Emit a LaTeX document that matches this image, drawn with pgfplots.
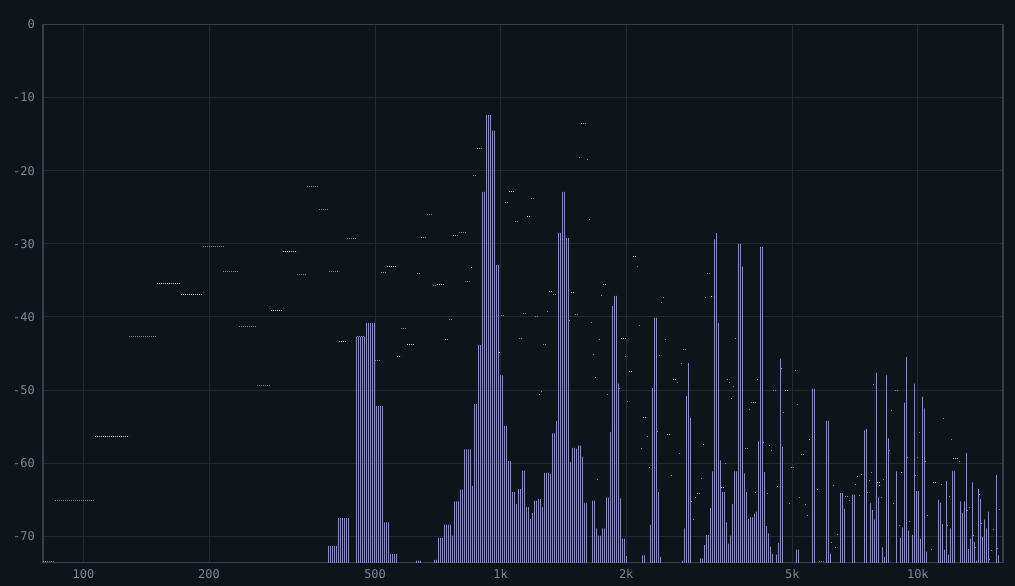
\documentclass[border=0pt]{standalone}
\usepackage{pgfplots}
\pgfplotsset{compat=1.18}
\usepackage{pgfplotstable}
\usetikzlibrary{patterns.meta}
\usepackage{fontspec}
\setmainfont{DejaVu Sans Mono}

\definecolor{bgcol}{HTML}{0F131A}
\definecolor{gridcol}{HTML}{252833}
\definecolor{axiscol}{HTML}{3A3C4E}
\definecolor{textcol}{HTML}{7F8494}
\definecolor{barcol}{HTML}{8C83E2}
\definecolor{mkbright}{HTML}{C9C9DA}
\definecolor{mkdim}{HTML}{7E8096}

% spectrum bands: level holds from f up to the next row
\pgfplotstableread{
f db
80 -80
383.55 -71.3
405.31 -67.5
433.07 -80
447.65 -42.7
473.04 -40.8
499.90 -52.2
522.46 -68.1
540.06 -72.4
564.43 -80
623.38 -73.3
644.38 -80
688.49 -73.2
703.86 -70.2
727.56 -68.4
760.40 -69.9
768.84 -65.2
794.72 -63.6
812.46 -58.1
849.14 -63.1
858.56 -51.9
877.73 -43.8
897.32 -22.9
917.35 -12.4
948.23 -14.5
969.40 -32.9
991.04 -48.0
1013.16 -54.9
1035.78 -59.7
1058.89 -63.9
1082.53 -65.6
1094.54 -63.5
1118.97 -61.0
1143.97 -66.0
1169.51 -67.6
1182.49 -66.8
1195.61 -65.1
1222.30 -64.9
1249.58 -66.0
1263.45 -61.3
1305.98 -61.5
1320.48 -55.9
1349.95 -54.2
1364.94 -28.5
1395.40 -22.9
1426.55 -29.2
1458.39 -59.8
1474.58 -57.9
1507.51 -58.0
1524.24 -57.6
1558.27 -59.1
1575.56 -65.5
1610.73 -80
1646.68 -65.1
1683.44 -68.9
1702.13 -69.9
1740.12 -68.9
1778.96 -64.7
1818.67 -55.7
1838.86 -38.5
1859.27 -37.1
1900.77 -49.1
1921.86 -64.8
1943.19 -70.3
1986.58 -72.7
2008.63 -80
2169.97 -72.6
2218.41 -80
2267.93 -68.4
2293.10 -49.7
2318.55 -40.1
2370.30 -63.9
2396.61 -72.8
2423.21 -80
2706.04 -73.3
2736.07 -68.9
2766.44 -50.8
2797.14 -46.3
2828.19 -53.8
2859.58 -80
2988.66 -73.0
3055.38 -71.2
3089.29 -69.8
3158.24 -66.1
3193.30 -61.1
3228.74 -29.4
3264.58 -28.5
3300.81 -40.8
3337.44 -59.6
3374.49 -63.9
3449.85 -68.1
3488.14 -71.0
3526.86 -69.9
3566.00 -65.6
3605.58 -61.1
3686.06 -30.0
3768.34 -33.1
3810.16 -61.4
3852.45 -63.9
3895.21 -67.6
3938.44 -67.4
4026.35 -66.9
4071.04 -66.6
4116.23 -57.0
4161.91 -30.4
4254.81 -61.2
4302.04 -68.6
4349.79 -69.6
4398.07 -71.4
4446.88 -72.4
4496.24 -80
4546.2 -72.5
4596.66 -70.9
4647.68 -45.7
4699.26 -57.8
4751.42 -80
5076.75 -71.8
5190.07 -80
5545.44 -49.8
5669.22 -80
5990.9 -54.2
6124.6 -72.4
6192.6 -80
6472.1 -64.1
6616.6 -66.2
6690.0 -80
6915.3 -64.3
7069.7 -80
7388.8 -55.5
7470.8 -55.3
7553.7 -80
7637.6 -65.5
7722.3 -66.4
7808.1 -67.7
7894.8 -47.6
7982.4 -64.7
8071.0 -80
8160.6 -71.5
8251.2 -72.8
8342.8 -48.0
8435.4 -56.6
8529.0 -80
8816.1 -61.1
8914.0 -80
9012.9 -70.2
9112.9 -68.8
9214.1 -51.7
9316.4 -45.5
9419.8 -69.2
9524.3 -80
9630.0 -69.8
9736.9 -49.1
9845.0 -63.8
10064.7 -70.3
10176.4 -50.9
10289.4 -52.5
10403.7 -72.1
10519.2 -80
11116.0 -65.0
11239.4 -65.4
11364.1 -68.3
11490.3 -71.8
11617.8 -62.4
11746.7 -72.5
11877.1 -68.9
12008.9 -61.1
12277.0 -80
12551.0 -65.2
12690.3 -66.8
12831.1 -65.2
12973.5 -58.6
13117.5 -71.7
13263.1 -70.3
13410.3 -62.6
13559.1 -70.8
13709.9 -73.3
13862.1 -63.5
14015.9 -64.9
14171.5 -70.1
14328.7 -67.7
14487.8 -68.9
14648.6 -66.6
14811.2 -80
15309.8 -61.6
15479.7 -72.6
15651.5 -80
16000 -80
}\bars

% peak-hold marks, bright ones: start, end, break
\pgfplotstableread{
f db
106.59 -56.4
128.60 -56.4
128.60 nan
150.09 -35.4
171.34 -35.4
171.34 nan
171.34 -36.9
193.46 -36.9
193.46 nan
281.57 -39.1
300.85 -39.1
300.85 nan
300.85 -31.0
325.02 -31.0
325.02 nan
409.81 -43.4
428.31 -43.4
428.31 nan
534.13 -33.1
564.43 -33.1
564.43 nan
564.43 -45.4
577.03 -45.4
577.03 nan
596.46 -43.7
623.38 -43.7
623.38 nan
703.86 -35.5
735.63 -35.5
735.63 nan
849.14 -33.2
858.56 -33.2
858.56 nan
991.04 -44.8
1002.04 -44.8
1002.04 nan
1047.27 -22.9
1082.53 -22.9
1082.53 nan
1156.67 -26.2
1182.49 -26.2
1182.49 nan
1235.86 -50.6
1249.58 -50.6
1249.58 nan
1305.98 -36.5
1335.13 -36.5
1335.13 nan
1474.58 -36.6
1507.51 -36.6
1507.51 nan
1628.61 -26.6
1646.68 -26.6
1646.68 nan
1683.44 -48.3
1702.13 -48.3
1702.13 nan
1759.44 -35.5
1798.71 -35.5
1798.71 nan
1943.19 -43.0
1986.58 -43.0
1986.58 nan
2030.92 -47.5
2076.25 -47.5
2076.25 nan
2076.25 -31.7
2122.60 -31.7
2122.60 nan
2194.06 -53.7
2243.03 -53.7
2243.03 nan
2267.93 -60.6
2293.10 -60.6
2293.10 nan
2504.79 -56.1
2560.70 -56.1
2560.70 nan
2589.12 -48.5
2646.96 -48.5
2646.96 nan
3055.38 -57.5
3089.29 -57.5
3089.29 nan
3193.30 -37.2
3228.74 -37.2
3228.74 nan
3374.49 -63.3
3449.85 -63.3
3449.85 nan
3566.00 -51.1
3605.58 -51.1
3605.58 nan
4071.04 -64.0
4116.23 -64.0
4116.23 nan
4116.23 -48.5
4161.91 -48.5
4161.91 nan
4398.07 -57.6
4446.88 -57.6
4446.88 nan
4596.66 -63.2
4647.68 -63.2
4647.68 nan
4804.16 -50.0
4911.40 -50.0
4911.40 nan
5484.57 -56.8
5545.44 -56.8
5545.44 nan
5732.15 -63.6
5795.77 -63.6
5795.77 nan
7982.4 -62.7
8071.0 -62.7
8071.0 nan
8071.0 -63.1
8160.6 -63.1
8160.6 nan
9112.9 -61.2
9214.1 -61.2
9214.1 nan
10873.3 -62.7
11116.0 -62.7
11116.0 nan
12142.2 -59.4
12551.0 -59.4
12551.0 nan
14015.9 -64.3
14171.5 -64.3
14171.5 nan
}\holdbright

% peak-hold marks, faded ones
\pgfplotstableread{
f db
80 -73.4
85.48 -73.4
85.48 nan
85.48 -65.1
106.59 -65.1
106.59 nan
128.60 -42.7
150.09 -42.7
150.09 nan
193.46 -30.4
216.04 -30.4
216.04 nan
216.04 -33.8
235.99 -33.8
235.99 nan
235.99 -41.3
260.63 -41.3
260.63 nan
260.63 -49.3
281.57 -49.3
281.57 nan
325.02 -34.2
343.46 -34.2
343.46 nan
343.46 -22.1
366.98 -22.1
366.98 nan
366.98 -25.3
387.81 -25.3
387.81 nan
387.81 -33.8
409.81 -33.8
409.81 nan
428.31 -29.3
452.61 -29.3
452.61 nan
452.61 -42.6
473.04 -42.6
473.04 nan
499.90 -46.0
516.73 -46.0
516.73 nan
516.73 -33.9
534.13 -33.9
534.13 nan
577.03 -41.6
596.46 -41.6
596.46 nan
630.31 -34.0
644.38 -34.0
644.38 nan
644.38 -29.1
666.06 -29.1
666.06 nan
666.06 -26.0
688.49 -26.0
688.49 nan
688.49 -35.7
703.86 -35.7
703.86 nan
735.63 -43.1
752.05 -43.1
752.05 nan
752.05 -40.4
768.84 -40.4
768.84 nan
768.84 -28.8
794.72 -28.8
794.72 nan
794.72 -28.4
821.48 -28.4
821.48 nan
821.48 -35.2
849.14 -35.2
849.14 nan
858.56 -20.7
877.73 -20.7
877.73 nan
877.73 -17.0
907.28 -17.0
907.28 nan
1002.04 -39.8
1024.41 -39.8
1024.41 nan
1024.41 -24.4
1047.27 -24.4
1047.27 nan
1082.53 -27.0
1106.69 -27.0
1106.69 nan
1106.69 -43.0
1131.39 -43.0
1131.39 nan
1131.39 -39.5
1156.67 -39.5
1156.67 nan
1182.49 -23.8
1208.88 -23.8
1208.88 nan
1208.88 -40.0
1235.86 -40.0
1235.86 nan
1249.58 -50.2
1263.45 -50.2
1263.45 nan
1263.45 -43.8
1291.65 -43.8
1291.65 nan
1291.65 -39.3
1305.98 -39.3
1305.98 nan
1335.13 -36.9
1364.94 -36.9
1364.94 nan
1458.39 -40.5
1474.58 -40.5
1474.58 nan
1507.51 -39.7
1541.16 -39.7
1541.16 nan
1541.16 -18.2
1558.27 -18.2
1558.27 nan
1558.27 -13.6
1610.73 -13.6
1610.73 nan
1610.73 -18.4
1628.61 -18.4
1628.61 nan
1646.68 -40.7
1664.96 -40.7
1664.96 nan
1664.96 -45.1
1683.44 -45.1
1683.44 nan
1702.13 -62.2
1721.02 -62.2
1721.02 nan
1721.02 -43.1
1740.12 -43.1
1740.12 nan
1740.12 -37.1
1759.44 -37.1
1759.44 nan
1798.71 -50.6
1818.67 -50.6
1818.67 nan
1921.86 -49.8
1943.19 -49.8
1943.19 nan
1986.58 -45.4
2008.63 -45.4
2008.63 nan
2008.63 -51.5
2030.92 -51.5
2030.92 nan
2122.60 -33.1
2146.15 -33.1
2146.15 nan
2146.15 -41.1
2169.97 -41.1
2169.97 nan
2169.97 -58.0
2194.06 -58.0
2194.06 nan
2243.03 -56.4
2267.93 -56.4
2267.93 nan
2370.30 -55.6
2396.61 -55.6
2396.61 nan
2396.61 -45.2
2423.21 -45.2
2423.21 nan
2423.21 -38.0
2450.10 -38.0
2450.10 nan
2450.10 -37.3
2477.30 -37.3
2477.30 nan
2477.30 -43.1
2504.79 -43.1
2504.79 nan
2560.70 -61.7
2589.12 -61.7
2589.12 nan
2646.96 -48.9
2676.33 -48.9
2676.33 nan
2676.33 -58.6
2706.04 -58.6
2706.04 nan
2706.04 -46.3
2736.07 -46.3
2736.07 nan
2736.07 -44.5
2797.14 -44.5
2797.14 nan
2859.58 -65.2
2891.32 -65.2
2891.32 nan
2891.32 -67.7
2923.41 -67.7
2923.41 nan
2923.41 -64.7
2955.86 -64.7
2955.86 nan
2955.86 -64.2
3021.84 -64.2
3021.84 nan
3021.84 -62.1
3055.38 -62.1
3055.38 nan
3089.29 -37.3
3123.58 -37.3
3123.58 nan
3123.58 -34.1
3193.30 -34.1
3193.30 nan
3449.85 -60.0
3488.14 -60.0
3488.14 nan
3488.14 -48.6
3526.86 -48.6
3526.86 nan
3526.86 -49.0
3566.00 -49.0
3566.00 nan
3605.58 -49.5
3645.60 -49.5
3645.60 nan
3645.60 -43.0
3686.06 -43.0
3686.06 nan
3852.45 -58.0
3938.44 -58.0
3938.44 nan
3938.44 -52.7
3982.16 -52.7
3982.16 nan
3982.16 -51.7
4071.04 -51.7
4071.04 nan
4254.81 -57.2
4302.04 -57.2
4302.04 nan
4349.79 -64.1
4398.07 -64.1
4398.07 nan
4446.88 -58.3
4496.24 -58.3
4496.24 nan
4496.24 -50.1
4596.66 -50.1
4596.66 nan
4699.26 -47.1
4751.42 -47.1
4751.42 nan
4751.42 -53.0
4804.16 -53.0
4804.16 nan
4911.40 -65.5
4965.91 -65.5
4965.91 nan
4965.91 -60.6
5076.75 -60.6
5076.75 nan
5076.75 -47.3
5133.10 -47.3
5133.10 nan
5133.10 -51.9
5190.07 -51.9
5190.07 nan
5190.07 -64.7
5247.68 -64.7
5247.68 nan
5247.68 -58.8
5364.82 -58.8
5364.82 nan
5364.82 -65.7
5424.36 -65.7
5424.36 nan
5424.36 -67.1
5484.57 -67.1
5484.57 nan
5795.77 -73.4
5990.9 -73.4
5990.9 nan
6192.6 -70.8
6261.3 -70.8
6261.3 nan
6261.3 -63.1
6330.8 -63.1
6330.8 nan
6330.8 -71.5
6401.1 -71.5
6401.1 nan
6401.1 -69.7
6472.1 -69.7
6472.1 nan
6690.0 -64.5
6839.4 -64.5
6839.4 nan
6839.4 -65.1
6915.3 -65.1
6915.3 nan
7069.7 -62.9
7148.1 -62.9
7148.1 nan
7148.1 -61.8
7227.5 -61.8
7227.5 nan
7227.5 -64.4
7307.7 -64.4
7307.7 nan
7307.7 -61.5
7388.8 -61.5
7388.8 nan
7553.7 -64.0
7637.6 -64.0
7637.6 nan
7637.6 -62.4
7722.3 -62.4
7722.3 nan
7722.3 -61.2
7808.1 -61.2
7808.1 nan
7808.1 -49.2
7894.8 -49.2
7894.8 nan
8160.6 -64.7
8251.2 -64.7
8251.2 nan
8251.2 -62.2
8342.8 -62.2
8342.8 nan
8529.0 -58.2
8623.6 -58.2
8623.6 nan
8623.6 -52.8
8719.3 -52.8
8719.3 nan
8719.3 -65.5
8816.1 -65.5
8816.1 nan
8816.1 -50.1
9012.9 -50.1
9012.9 nan
9012.9 -68.5
9112.9 -68.5
9112.9 nan
9419.8 -59.2
9524.3 -59.2
9524.3 nan
9524.3 -68.0
9630.0 -68.0
9630.0 nan
9845.0 -61.7
9954.2 -61.7
9954.2 nan
9954.2 -59.2
10064.7 -59.2
10064.7 nan
10064.7 -55.8
10176.4 -55.8
10176.4 nan
10403.7 -59.7
10519.2 -59.7
10519.2 nan
10519.2 -67.1
10635.9 -67.1
10635.9 nan
10754.0 -71.8
10873.3 -71.8
10873.3 nan
11364.1 -62.9
11490.3 -62.9
11490.3 nan
11490.3 -53.9
11617.8 -53.9
11617.8 nan
11746.7 -68.5
11877.1 -68.5
11877.1 nan
11877.1 -64.5
12008.9 -64.5
12008.9 nan
12008.9 -56.7
12142.2 -56.7
12142.2 nan
12551.0 -59.7
12690.3 -59.7
12690.3 nan
13117.5 -66.5
13263.1 -66.5
13263.1 nan
13263.1 -66.0
13410.3 -66.0
13410.3 nan
13559.1 -69.9
13709.9 -69.9
13709.9 nan
13709.9 -71.5
13862.1 -71.5
13862.1 nan
14171.5 -68.3
14328.7 -68.3
14328.7 nan
14811.2 -73.2
14975.5 -73.2
14975.5 nan
14975.5 -71.9
15141.8 -71.9
15141.8 nan
15141.8 -69.0
15309.8 -69.0
15309.8 nan
15479.7 -71.6
15651.5 -71.6
15651.5 nan
15651.5 -66.3
15825.2 -66.3
15825.2 nan
}\holddim

\begin{document}
\begin{tikzpicture}
\fill[bgcol] (-43bp,-23.3bp) rectangle (972bp,562.7bp);
\begin{axis}[
  at={(0,0)}, anchor=south west,
  scale only axis, width=960bp, height=538.2bp,
  xmode=log, xmin=80, xmax=16000,
  ymin=-73.6, ymax=0,
  xtick={100,200,500,1000,2000,5000,10000},
  xticklabels={100,200,500,1k,2k,5k,10k},
  ytick={-70,-60,-50,-40,-30,-20,-10,0},
  yticklabels={-70,-60,-50,-40,-30,-20,-10,0},
  grid=major,
  major grid style={draw=gridcol, line width=1bp},
  axis line style={draw=axiscol, line width=1.3bp},
  major tick length=0pt, minor tick length=0pt,
  tick label style={font=\fontsize{12}{14}\selectfont, text=textcol, inner sep=0pt},
  xticklabel style={anchor=north, yshift=-6.6bp},
  yticklabel style={anchor=east, xshift=-8bp},
  unbounded coords=jump,
]
\addplot[const plot, draw=none,
  pattern={Lines[angle=90, distance=2bp, line width=1bp, xshift=0.5bp]},
  pattern color=barcol] table[x=f, y=db] {\bars};
\addplot[draw=mkdim, line width=1bp, dash pattern=on 1bp off 1bp] table[x=f, y=db] {\holddim};
\addplot[draw=mkbright, line width=1bp, dash pattern=on 1bp off 1bp] table[x=f, y=db] {\holdbright};
\end{axis}
\end{tikzpicture}
\end{document}
